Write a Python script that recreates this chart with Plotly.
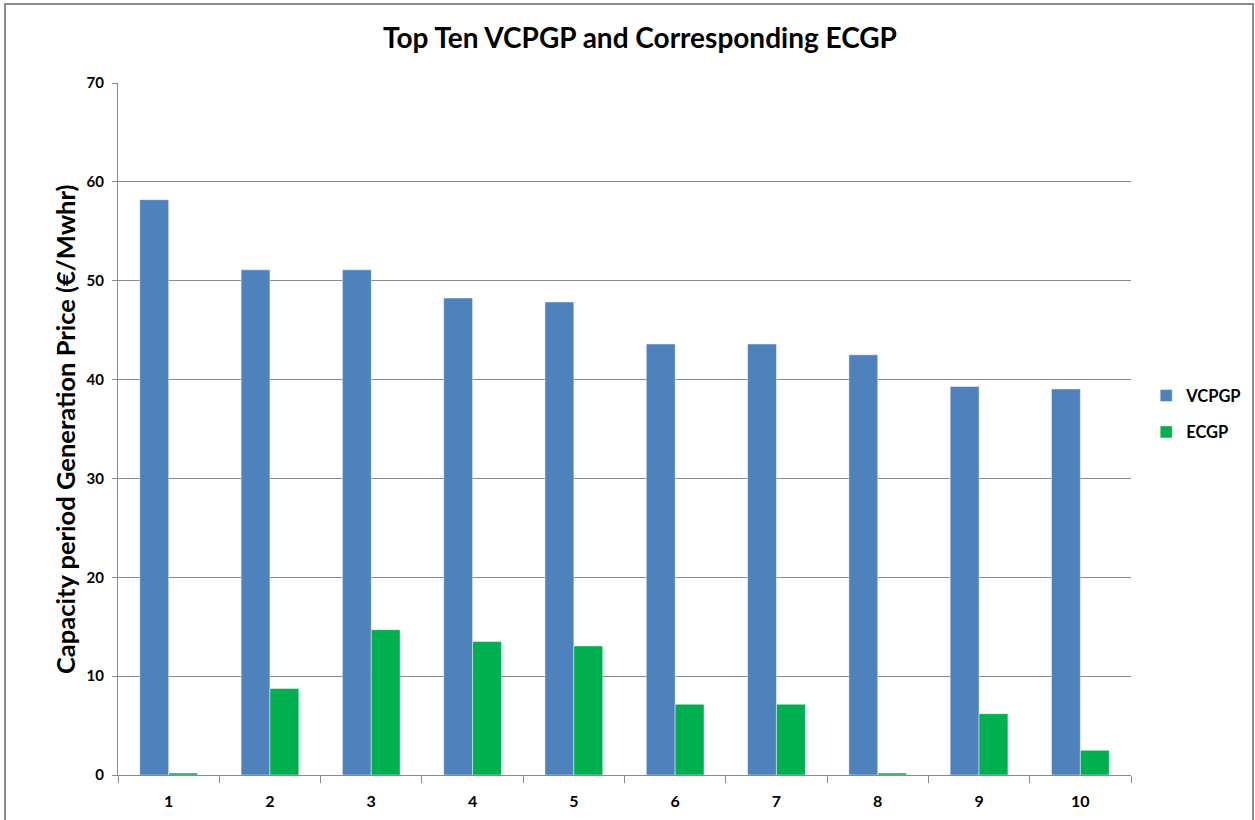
import plotly.graph_objects as go

categories = ["1", "2", "3", "4", "5", "6", "7", "8", "9", "10"]
vcpgp = [58.2, 51.1, 51.1, 48.25, 47.85, 43.6, 43.6, 42.5, 39.3, 39.05]
ecgp = [0.2, 8.75, 14.7, 13.5, 13.05, 7.15, 7.15, 0.2, 6.2, 2.5]
y_ticks = [0, 10, 20, 30, 40, 50, 60, 70]

FONT = "Lato"
GRID = "#8a8a8a"

fig = go.Figure()
fig.add_trace(go.Bar(x=categories, y=vcpgp, name="VCPGP", legendgroup="a",
                     marker=dict(color="#4F81BD", line=dict(color="rgba(255,255,255,0.45)", width=1))))
fig.add_trace(go.Bar(x=categories, y=ecgp, name="ECGP", legendgroup="b",
                     marker=dict(color="#00B050", line=dict(color="rgba(255,255,255,0.45)", width=1))))

fig.update_layout(
    width=1255, height=820,
    margin=dict(l=118, r=124, t=83, b=45, autoexpand=False),
    paper_bgcolor="white", plot_bgcolor="white",
    barmode="group", bargap=0.43, bargroupgap=0,
    title=dict(text="Top Ten VCPGP and Corresponding ECGP",
               x=640/1255, xanchor="center", y=1-38/820, yanchor="middle",
               font=dict(family=FONT, size=28, color="black", weight="bold")),
    legend=dict(x=1.015, y=0.522, xanchor="left", yanchor="middle",
                font=dict(family=FONT, size=16.5, color="black", weight="bold"),
                itemwidth=30, tracegroupgap=12, traceorder="grouped"),
    font=dict(family=FONT, color="black"),
    showlegend=True,
)
fig.update_xaxes(type="category", showline=True, linecolor=GRID, linewidth=1,
                 ticks="outside", ticklen=7, tickcolor=GRID, tickson="boundaries",
                 tickfont=dict(family=FONT, size=16, color="black", weight="bold"),
                 ticklabelstandoff=12, showgrid=False)
fig.update_yaxes(range=[0, 70], tickvals=y_ticks, showline=True, linecolor=GRID, linewidth=1,
                 ticks="outside", ticklen=5, tickcolor=GRID,
                 showgrid=True, gridcolor=GRID, gridwidth=1, zeroline=False,
                 tickfont=dict(family=FONT, size=15, color="black", weight="bold"),
                 ticklabelstandoff=5)

fig.add_annotation(text="Capacity period Generation Price (€/Mwhr)",
                   xref="paper", yref="paper", x=(65-118)/1013, y=0.5,
                   xanchor="center", yanchor="middle", textangle=-90, showarrow=False,
                   font=dict(family=FONT, size=25.5, color="black", weight="bold"))

# chart border
fig.add_shape(type="rect", xref="paper", yref="paper",
              x0=(5-118)/1013, x1=(1253-118)/1013, y0=(775-830)/692, y1=(775-4)/692,
              line=dict(color="#8c8c8c", width=2), fillcolor="rgba(0,0,0,0)", layer="below")

fig.write_html("out.html", config={"displayModeBar": False},
               post_script="document.body.style.margin='0';")
